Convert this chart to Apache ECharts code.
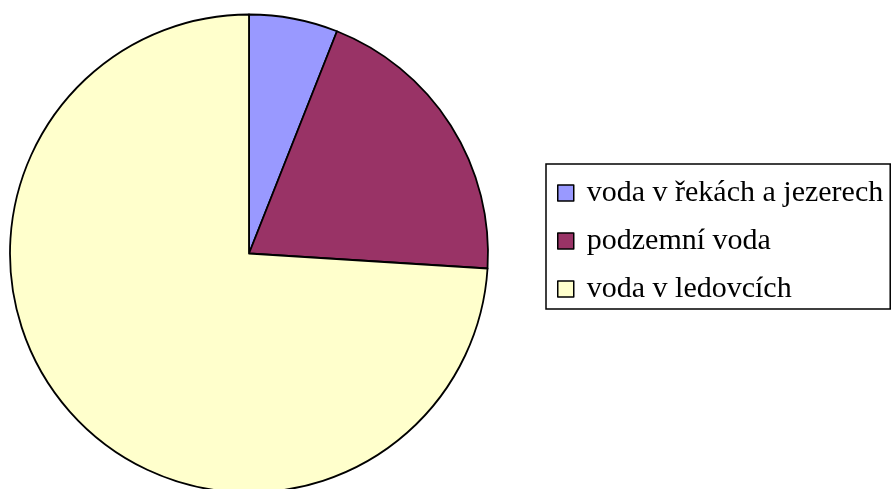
<!DOCTYPE html>
<html>
<head>
<meta charset="utf-8">
<script src="https://cdn.jsdelivr.net/npm/echarts@6/dist/echarts.min.js"></script>
<style>
  html, body { margin: 0; padding: 0; background: #fff; }
  #main { width: 893px; height: 489px; }
</style>
</head>
<body>
<div id="main"></div>
<script>
var chart = echarts.init(document.getElementById("main"));

// podíl vody (v %)
var names = ["voda v řekách a jezerech", "podzemní voda", "voda v ledovcích"];
var values = [6, 20, 74];
var colors = ["#9999FF", "#993366", "#FFFFCC"];

var pieData = [];
for (var i = 0; i < names.length; i++) {
  pieData.push({ name: names[i], value: values[i], itemStyle: { color: colors[i] } });
}

var option = {
  animation: false,
  legend: {
    orient: "vertical",
    left: 546,
    top: 164,
    padding: [14, 7, 5, 11],
    itemGap: 18,
    itemWidth: 16,
    itemHeight: 16,
    icon: "rect",
    borderColor: "#000",
    borderWidth: 1.5,
    itemStyle: { borderColor: "#000", borderWidth: 1.5 },
    textStyle: {
      fontFamily: "Liberation Serif",
      fontSize: 30,
      lineHeight: 30,
      color: "#000",
      padding: [0, 0, 0, 8]
    },
    data: names
  },
  series: [
    {
      type: "pie",
      center: [249, 253.5],
      radius: 239,
      startAngle: 90,
      clockwise: true,
      label: { show: false },
      labelLine: { show: false },
      emphasis: { disabled: true },
      itemStyle: { borderColor: "#000", borderWidth: 1.8 },
      data: pieData
    }
  ]
};

chart.setOption(option);
window.onresize = chart.resize;
</script>
</body>
</html>
